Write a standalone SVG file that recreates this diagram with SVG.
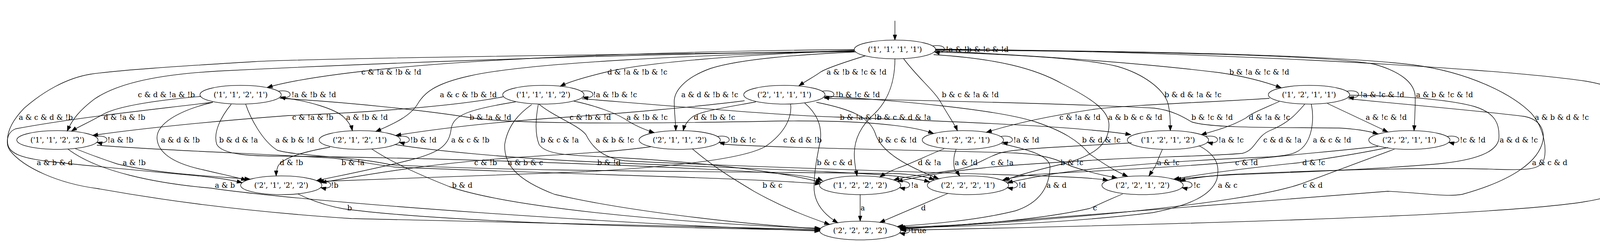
<svg xmlns="http://www.w3.org/2000/svg" width="4292" height="620" viewBox="0 0 4292 620">
<style>
.n ellipse{fill:none;stroke:#000;stroke-width:1.33}
.n text{text-anchor:middle}
text{font-family:"DejaVu Serif","Liberation Serif",serif;font-size:18.67px;fill:#000}
.e path{fill:none;stroke:#000;stroke-width:1.33;marker-end:url(#ah)}
</style>
<defs>
<marker id="ah" markerUnits="userSpaceOnUse" markerWidth="14" markerHeight="10" refX="13.3" refY="4.67" orient="auto" overflow="visible">
<path d="M0,0 L13.3,4.67 L0,9.33 z" fill="#000" stroke="#000" stroke-width="1"/>
</marker>
</defs>
<rect width="4292" height="620" fill="#fff"/>
<g id="connectors">
<g class="e" id="start"><path d="M2291,53.3 L2291,102.7"/></g>
<!-- from 1111 -->
<g class="e" id="e-1111-1111"><path d="M2388,117.7 C2427,110.7 2427,140.7 2392,132.7"/><text x="2421" y="132.7">!a &amp; !b &amp; !c &amp; !d</text></g>
<g class="e" id="e-1111-2111"><path d="M2215,143 C2160,160 2115,175 2100,185 C2085,196 2062,208 2045,220"/><text x="2116" y="190.7">a &amp; !b &amp; !c &amp; !d</text></g>
<g class="e" id="e-1111-1211"><path d="M2395,130 C2700,145 2950,165 3121,186 C3190,196 3240,210 3280,225"/><text x="3147" y="190.7">b &amp; !a &amp; !c &amp; !d</text></g>
<g class="e" id="e-1111-1121"><path d="M2187,127 C1800,130 1300,145 1000,175 C850,190 750,205 684,224"/><text x="925" y="190.7">c &amp; !a &amp; !b &amp; !d</text></g>
<g class="e" id="e-1111-1112"><path d="M2187,129 C1900,140 1650,160 1550,185 C1500,197 1460,208 1434,221"/><text x="1555" y="190.7">d &amp; !a &amp; !b &amp; !c</text></g>
<g class="e" id="e-1111-2211"><path d="M2395,128 C2900,132 3400,140 3520,165 C3590,185 3623,215 3623,250 C3623,290 3621,315 3620,335"/><text x="3625" y="248.7">a &amp; b &amp; !c &amp; !d</text></g>
<g class="e" id="e-1111-2121"><path d="M2187,131 C1800,140 1350,160 1200,195 C1110,215 1085,240 1070,265 C1050,300 1000,320 962,337"/><text x="1126" y="248.7">a &amp; c &amp; !b &amp; !d</text></g>
<g class="e" id="e-1111-2112"><path d="M2190,133 C2050,140 1900,150 1820,175 C1750,200 1726,235 1726,260 C1726,290 1730,315 1730,335"/><text x="1744" y="248.7">a &amp; d &amp; !b &amp; !c</text></g>
<g class="e" id="e-1111-1221"><path d="M2313,150 C2350,200 2395,235 2410,265 C2430,300 2445,320 2451,335"/><text x="2411" y="248.7">b &amp; c &amp; !a &amp; !d</text></g>
<g class="e" id="e-1111-1212"><path d="M2394,133 C2600,140 2780,150 2860,170 C2930,190 2980,230 2990,265 C2996,290 2996,315 2996,335"/><text x="2981" y="248.7">b &amp; d &amp; !a &amp; !c</text></g>
<g class="e" id="e-1111-1122"><path d="M2187,131 C1500,140 900,165 560,182 C380,192 290,220 240,255 C205,282 185,305 172,336"/><text x="353" y="248.7">c &amp; d &amp; !a &amp; !b</text></g>
<g class="e" id="e-1111-2221"><path d="M2390,140 C2550,150 2650,175 2720,215 C2800,255 2839,285 2839,320 C2839,370 2800,400 2720,420 C2650,437 2600,450 2571,463"/><text x="2837" y="306.7">a &amp; b &amp; c &amp; !d</text></g>
<g class="e" id="e-1111-2212"><path d="M2395,127 C2900,130 3400,140 3617,166 C3760,185 3870,240 3920,290 C3955,330 3962,390 3950,415 C3935,440 3880,435 3806,433 C3600,428 3300,440 3150,447 C3080,452 3040,458 3021,464"/><text x="3929" y="306.7">a &amp; b &amp; d &amp; !c</text></g>
<g class="e" id="e-1111-2122"><path d="M2187,132 C1500,140 800,150 650,158 C450,170 300,180 232,190 C170,200 110,235 62,277 C30,310 15,340 20,370 C25,395 60,405 120,413 C250,428 400,440 520,452 C560,456 595,462 620,468"/><text x="48" y="306.7">a &amp; c &amp; d &amp; !b</text></g>
<g class="e" id="e-1111-1222"><path d="M2291,151 C2291,200 2280,250 2240,290 C2200,325 2187,360 2187,395 C2187,420 2192,440 2194,451"/><text x="2245" y="306.7">b &amp; c &amp; d &amp; !a</text></g>
<g class="e" id="e-1111-2222"><path d="M2395,126 C3000,130 3800,170 4060,208 C4130,220 4151,235 4151,260 L4151,470 C4151,495 4130,505 4050,518 C3800,555 3000,575 2306,590"/><text x="4153" y="364.7">a &amp; b &amp; c &amp; d</text></g>
<!-- from 2111 -->
<g class="e" id="e-2111-2111"><path d="M2105,233.7 C2144,226.7 2144,256.7 2109,248.7"/><text x="2139" y="248.7">!b &amp; !c &amp; !d</text></g>
<g class="e" id="e-2111-2211"><path d="M2110,252 C2400,258 2800,268 2954,277 C3000,282 3030,300 3050,312 C3100,330 3300,326 3427,328 C3470,330 3500,335 3528,343"/><text x="3050" y="306.7">b &amp; !c &amp; !d</text></g>
<g class="e" id="e-2111-2121"><path d="M1906,258 C1800,272 1600,290 1452,300 C1300,310 1150,325 1013,347"/><text x="1458" y="306.7">c &amp; !b &amp; !d</text></g>
<g class="e" id="e-2111-2112"><path d="M1935,261 C1860,275 1790,285 1772,300 C1758,312 1752,322 1749,335"/><text x="1776" y="306.7">d &amp; !b &amp; !c</text></g>
<g class="e" id="e-2111-2221"><path d="M2090,262 C2180,280 2225,300 2240,340 C2255,390 2320,425 2403,458"/><text x="2248" y="364.7">b &amp; c &amp; !d</text></g>
<g class="e" id="e-2111-2212"><path d="M2112,246 C2300,258 2550,280 2650,312 C2720,335 2760,360 2790,395 C2840,430 2860,440 2887,452"/><text x="2770" y="364.7">b &amp; d &amp; !c</text></g>
<g class="e" id="e-2111-2122"><path d="M2024,267 C2028,300 2010,340 1960,375 C1900,410 1700,428 1500,440 C1200,452 950,458 815,465"/><text x="2005" y="364.7">c &amp; d &amp; !b</text></g>
<g class="e" id="e-2111-2222"><path d="M2060,264 C2090,290 2105,320 2100,360 C2092,400 2084,440 2084,480 C2084,520 2110,550 2145,571"/><text x="2091" y="422.7">b &amp; c &amp; d</text></g>
<!-- from 1211 -->
<g class="e" id="e-1211-1211"><path d="M3448,233.7 C3487,226.7 3487,256.7 3452,248.7"/><text x="3482" y="248.7">!a &amp; !c &amp; !d</text></g>
<g class="e" id="e-1211-2211"><path d="M3398,265 L3553,338"/><text x="3496" y="306.7">a &amp; !c &amp; !d</text></g>
<g class="e" id="e-1211-1221"><path d="M3250,252 C3100,262 2900,268 2800,280 C2700,295 2600,315 2525,339"/><text x="2712" y="306.7">c &amp; !a &amp; !d</text></g>
<g class="e" id="e-1211-1212"><path d="M3275,260 C3230,280 3200,292 3190,302 C3150,325 3110,335 3075,345"/><text x="3197" y="306.7">d &amp; !a &amp; !c</text></g>
<g class="e" id="e-1211-2221"><path d="M3357,267 C3364,300 3360,340 3345,365 C3330,390 3310,398 3250,402 C3000,412 2800,430 2700,445 C2640,455 2600,462 2579,469"/><text x="3361" y="364.7">a &amp; c &amp; !d</text></g>
<g class="e" id="e-1211-1222"><path d="M3340,267 C3320,290 3300,315 3250,335 C3215,350 3215,385 3180,393 C3100,400 2950,402 2839,408 C2700,416 2560,425 2520,430 C2420,440 2340,455 2297,465"/><text x="3234" y="364.7">c &amp; d &amp; !a</text></g>
<g class="e" id="e-1211-2212"><path d="M3455,244 C3550,244 3700,252 3775,273 C3830,290 3840,320 3837,357 C3830,390 3780,410 3680,420 C3500,435 3300,442 3150,448 C3080,452 3030,457 3010,461"/><text x="3839" y="364.7">a &amp; d &amp; !c</text></g>
<g class="e" id="e-1211-2222"><path d="M3452,253 C3600,268 3800,285 3901,298 C3940,305 3955,330 3950,360 C3940,410 3880,460 3743,498 C3700,505 3650,495 3553,490 C3300,510 2600,565 2305,588"/><text x="3922" y="422.7">a &amp; c &amp; d</text></g>
<!-- from 1121 -->
<g class="e" id="e-1121-1121"><path d="M713,233.7 C752,226.7 752,256.7 717,248.7"/><text x="746" y="248.7">!a &amp; !b &amp; !d</text></g>
<g class="e" id="e-1121-2121"><path d="M720,250 C790,258 860,280 880,300 C895,315 900,325 902,335"/><text x="886" y="306.7">a &amp; !b &amp; !d</text></g>
<g class="e" id="e-1121-1221"><path d="M716,252 C900,262 1100,285 1195,300 C1300,318 1600,318 2000,310 C2200,308 2330,320 2390,342"/><text x="1202" y="306.7">b &amp; !a &amp; !d</text></g>
<g class="e" id="e-1121-1122"><path d="M514,247 C420,255 300,270 260,295 C225,315 200,325 183,336"/><text x="265" y="306.7">d &amp; !a &amp; !b</text></g>
<g class="e" id="e-1121-2221"><path d="M629,267 C640,300 670,360 710,385 C760,400 900,400 1000,422 C1300,440 2000,440 2300,445 C2340,447 2370,452 2392,461"/><text x="705" y="364.7">a &amp; b &amp; !d</text></g>
<g class="e" id="e-1121-2122"><path d="M545,262 C450,285 400,320 402,355 C405,395 450,420 520,435 C570,447 610,455 631,462"/><text x="412" y="364.7">a &amp; d &amp; !b</text></g>
<g class="e" id="e-1121-1222"><path d="M592,267 C565,300 545,340 555,370 C570,398 650,400 720,400 C1200,405 1800,430 2000,445 C2060,450 2090,456 2106,463"/><text x="561" y="364.7">b &amp; d &amp; !a</text></g>
<g class="e" id="e-1121-2222"><path d="M544,262 C400,280 200,300 40,330 C15,340 15,370 25,385 C60,430 150,470 249,483 C400,510 600,540 900,560 C1400,575 1800,582 2100,588"/><text x="94" y="422.7">a &amp; b &amp; d</text></g>
<!-- from 1112 -->
<g class="e" id="e-1112-1112"><path d="M1488,233.7 C1527,226.7 1527,256.7 1492,248.7"/><text x="1518" y="248.7">!a &amp; !b &amp; !c</text></g>
<g class="e" id="e-1112-2112"><path d="M1469,259 C1530,272 1575,290 1600,305 C1625,322 1650,332 1675,340"/><text x="1604" y="306.7">a &amp; !b &amp; !c</text></g>
<g class="e" id="e-1112-1212"><path d="M1490,253 C1700,270 2000,296 2145,300 C2400,310 2750,322 2895,345"/><text x="2150" y="306.7">b &amp; !a &amp; !c</text></g>
<g class="e" id="e-1112-1122"><path d="M1288,248 C1150,275 900,290 740,296 C550,310 350,330 237,347"/><text x="748" y="306.7">c &amp; !a &amp; !b</text></g>
<g class="e" id="e-1112-2212"><path d="M1380,267 C1420,300 1480,320 1500,345 C1520,385 1550,405 1600,412 C1900,428 2500,445 2700,452 C2780,455 2815,458 2837,462"/><text x="1525" y="364.7">a &amp; b &amp; !c</text></g>
<g class="e" id="e-1112-2122"><path d="M1320,261 C1200,280 1160,295 1155,330 C1150,370 1130,390 1050,410 C950,435 870,450 810,463"/><text x="1155" y="364.7">a &amp; c &amp; !b</text></g>
<g class="e" id="e-1112-1222"><path d="M1378,267 C1372,300 1368,340 1380,370 C1395,395 1450,398 1550,402 C1800,415 2000,440 2102,467"/><text x="1384" y="364.7">b &amp; c &amp; !a</text></g>
<g class="e" id="e-1112-2222"><path d="M1361,268 C1330,290 1300,320 1292,370 C1290,420 1320,460 1420,498 C1600,540 1900,575 2099,586"/><text x="1300" y="422.7">a &amp; b &amp; c</text></g>
<!-- from 2121 -->
<g class="e" id="e-2121-2121"><path d="M1018,349.7 C1057,342.7 1057,372.7 1022,364.7"/><text x="1050" y="364.7">!b &amp; !d</text></g>
<g class="e" id="e-2121-2221"><path d="M1010,370 C1100,385 1300,405 1525,415 C1800,428 2200,440 2300,452 C2340,457 2365,462 2380,466"/><text x="1529" y="422.7">b &amp; !d</text></g>
<g class="e" id="e-2121-2122"><path d="M845,377 C770,390 725,405 712,425 C708,435 707,445 707,451"/><text x="716" y="422.7">d &amp; !b</text></g>
<g class="e" id="e-2121-2222"><path d="M952,382 C1010,420 1080,450 1150,478 C1300,530 1700,570 2100,585"/><text x="1157" y="480.7">b &amp; d</text></g>
<!-- from 2112 -->
<g class="e" id="e-2112-2112"><path d="M1837,349.7 C1876,342.7 1876,372.7 1841,364.7"/><text x="1869" y="364.7">!b &amp; !c</text></g>
<g class="e" id="e-2112-2212"><path d="M1844,369 C2000,380 2400,385 2600,392 C2680,397 2710,410 2740,425 C2800,445 2830,450 2860,456"/><text x="2715" y="422.7">b &amp; !c</text></g>
<g class="e" id="e-2112-2122"><path d="M1666,376 C1550,392 1420,396 1300,405 C1100,420 950,445 822,468"/><text x="1214" y="422.7">c &amp; !b</text></g>
<g class="e" id="e-2112-2222"><path d="M1772,381 C1830,430 1880,460 1930,490 C2010,535 2080,560 2124,575"/><text x="1952" y="480.7">b &amp; c</text></g>
<!-- from 2211 -->
<g class="e" id="e-2211-2211"><path d="M3705,349.7 C3744,342.7 3744,372.7 3709,364.7"/><text x="3737" y="364.7">!c &amp; !d</text></g>
<g class="e" id="e-2211-2221"><path d="M3528,375 C3400,390 3250,400 3160,415 C3000,430 2750,440 2650,447 C2610,451 2585,456 2566,462"/><text x="3162" y="422.7">c &amp; !d</text></g>
<g class="e" id="e-2211-2212"><path d="M3553,378 C3450,400 3350,412 3325,417 C3200,430 3080,445 3005,459"/><text x="3334" y="422.7">d &amp; !c</text></g>
<g class="e" id="e-2211-2222"><path d="M3570,382 C3480,415 3400,445 3328,472 C3200,515 2800,560 2305,586"/><text x="3335" y="480.7">c &amp; d</text></g>
<!-- from 1221 -->
<g class="e" id="e-1221-1221"><path d="M2562,349.7 C2601,342.7 2601,372.7 2566,364.7"/><text x="2594" y="364.7">!a &amp; !d</text></g>
<g class="e" id="e-1221-2221"><path d="M2448,382 C2440,400 2440,425 2445,435 C2450,443 2455,448 2457,451"/><text x="2444" y="422.7">a &amp; !d</text></g>
<g class="e" id="e-1221-1222"><path d="M2417,381 C2370,400 2330,420 2300,430 C2275,440 2262,447 2252,454"/><text x="2350" y="422.7">d &amp; !a</text></g>
<g class="e" id="e-1221-2222"><path d="M2564,368 C2640,385 2690,400 2688,430 C2686,480 2660,520 2600,540 C2500,565 2380,574 2298,580"/><text x="2679" y="480.7">a &amp; d</text></g>
<!-- from 1212 -->
<g class="e" id="e-1212-1212"><path d="M3087,349.7 C3126,342.7 3126,372.7 3091,364.7"/><text x="3119" y="364.7">!a &amp; !c</text></g>
<g class="e" id="e-1212-2212"><path d="M2976,382 C2968,400 2960,420 2958,425 C2952,435 2945,445 2941,451"/><text x="2962" y="422.7">a &amp; !c</text></g>
<g class="e" id="e-1212-1222"><path d="M2897,366 C2750,375 2600,380 2560,392 C2520,405 2500,425 2450,435 C2380,445 2320,452 2288,461"/><text x="2537" y="422.7">c &amp; !a</text></g>
<g class="e" id="e-1212-2222"><path d="M3069,373 C3110,395 3125,420 3115,460 C3100,500 3050,525 2950,545 C2700,575 2450,580 2304,584"/><text x="3118" y="480.7">a &amp; c</text></g>
<!-- from 1122 -->
<g class="e" id="e-1122-1122"><path d="M244,349.7 C283,342.7 283,372.7 248,364.7"/><text x="275" y="364.7">!a &amp; !b</text></g>
<g class="e" id="e-1122-2122"><path d="M191,380 C240,400 270,410 300,420 C400,445 550,452 640,459"/><text x="314" y="422.7">a &amp; !b</text></g>
<g class="e" id="e-1122-1222"><path d="M248,372 C400,385 700,395 850,405 C900,410 960,422 1010,428 C1400,445 1900,455 2100,471"/><text x="874" y="422.7">b &amp; !a</text></g>
<g class="e" id="e-1122-2222"><path d="M174,382 C250,440 400,470 540,482 C800,520 1600,575 2099,592"/><text x="550" y="480.7">a &amp; b</text></g>
<!-- from row 4 -->
<g class="e" id="e-2122-2122"><path d="M817,465.7 C856,458.7 856,488.7 821,480.7"/><text x="847" y="480.7">!b</text></g>
<g class="e" id="e-2122-2222"><path d="M763,497 C800,515 840,528 880,535 C1100,565 1600,582 2099,590"/><text x="889" y="538.7">b</text></g>
<g class="e" id="e-1222-1222"><path d="M2299,465.7 C2338,458.7 2338,488.7 2303,480.7"/><text x="2332" y="480.7">!a</text></g>
<g class="e" id="e-1222-2222"><path d="M2202,498.7 L2202,566.7"/><text x="2203" y="538.7">a</text></g>
<g class="e" id="e-2221-2221"><path d="M2575,465.7 C2614,458.7 2614,488.7 2579,480.7"/><text x="2607" y="480.7">!d</text></g>
<g class="e" id="e-2221-2222"><path d="M2428,495 L2252,570"/><text x="2358" y="538.7">d</text></g>
<g class="e" id="e-2212-2212"><path d="M3022,465.7 C3061,458.7 3061,488.7 3026,480.7"/><text x="3055" y="480.7">!c</text></g>
<g class="e" id="e-2212-2222"><path d="M2874,497 C2830,515 2800,530 2790,534 C2650,565 2450,580 2302,582"/><text x="2798" y="538.7">c</text></g>
<g class="e" id="e-2222-2222"><path d="M2299,581.7 C2338,574.7 2338,604.7 2303,596.7"/><text x="2332" y="596.7">true</text></g>
</g>
<g id="nodes">
<g class="n" id="n1111"><ellipse cx="2291" cy="126.7" rx="104" ry="24"/><text x="2291" y="132.7">('1', '1', '1', '1')</text></g>
<g class="n" id="n1121"><ellipse cx="616" cy="242.7" rx="104" ry="24"/><text x="616" y="248.7">('1', '1', '2', '1')</text></g>
<g class="n" id="n1112"><ellipse cx="1391" cy="242.7" rx="104" ry="24"/><text x="1391" y="248.7">('1', '1', '1', '2')</text></g>
<g class="n" id="n2111"><ellipse cx="2008" cy="242.7" rx="104" ry="24"/><text x="2008" y="248.7">('2', '1', '1', '1')</text></g>
<g class="n" id="n1211"><ellipse cx="3351" cy="242.7" rx="104" ry="24"/><text x="3351" y="248.7">('1', '2', '1', '1')</text></g>
<g class="n" id="n1122"><ellipse cx="147" cy="358.7" rx="104" ry="24"/><text x="147" y="364.7">('1', '1', '2', '2')</text></g>
<g class="n" id="n2121"><ellipse cx="921" cy="358.7" rx="104" ry="24"/><text x="921" y="364.7">('2', '1', '2', '1')</text></g>
<g class="n" id="n2112"><ellipse cx="1740" cy="358.7" rx="104" ry="24"/><text x="1740" y="364.7">('2', '1', '1', '2')</text></g>
<g class="n" id="n1221"><ellipse cx="2465" cy="358.7" rx="104" ry="24"/><text x="2465" y="364.7">('1', '2', '2', '1')</text></g>
<g class="n" id="n1212"><ellipse cx="2990" cy="358.7" rx="104" ry="24"/><text x="2990" y="364.7">('1', '2', '1', '2')</text></g>
<g class="n" id="n2211"><ellipse cx="3608" cy="358.7" rx="104" ry="24"/><text x="3608" y="364.7">('2', '2', '1', '1')</text></g>
<g class="n" id="n2122"><ellipse cx="720" cy="474.7" rx="104" ry="24"/><text x="720" y="480.7">('2', '1', '2', '2')</text></g>
<g class="n" id="n1222"><ellipse cx="2202" cy="474.7" rx="104" ry="24"/><text x="2202" y="480.7">('1', '2', '2', '2')</text></g>
<g class="n" id="n2221"><ellipse cx="2478" cy="474.7" rx="104" ry="24"/><text x="2478" y="480.7">('2', '2', '2', '1')</text></g>
<g class="n" id="n2212"><ellipse cx="2925" cy="474.7" rx="104" ry="24"/><text x="2925" y="480.7">('2', '2', '1', '2')</text></g>
<g class="n" id="n2222"><ellipse cx="2202" cy="590.7" rx="104" ry="24"/><text x="2202" y="596.7">('2', '2', '2', '2')</text></g>
</g>
</svg>
